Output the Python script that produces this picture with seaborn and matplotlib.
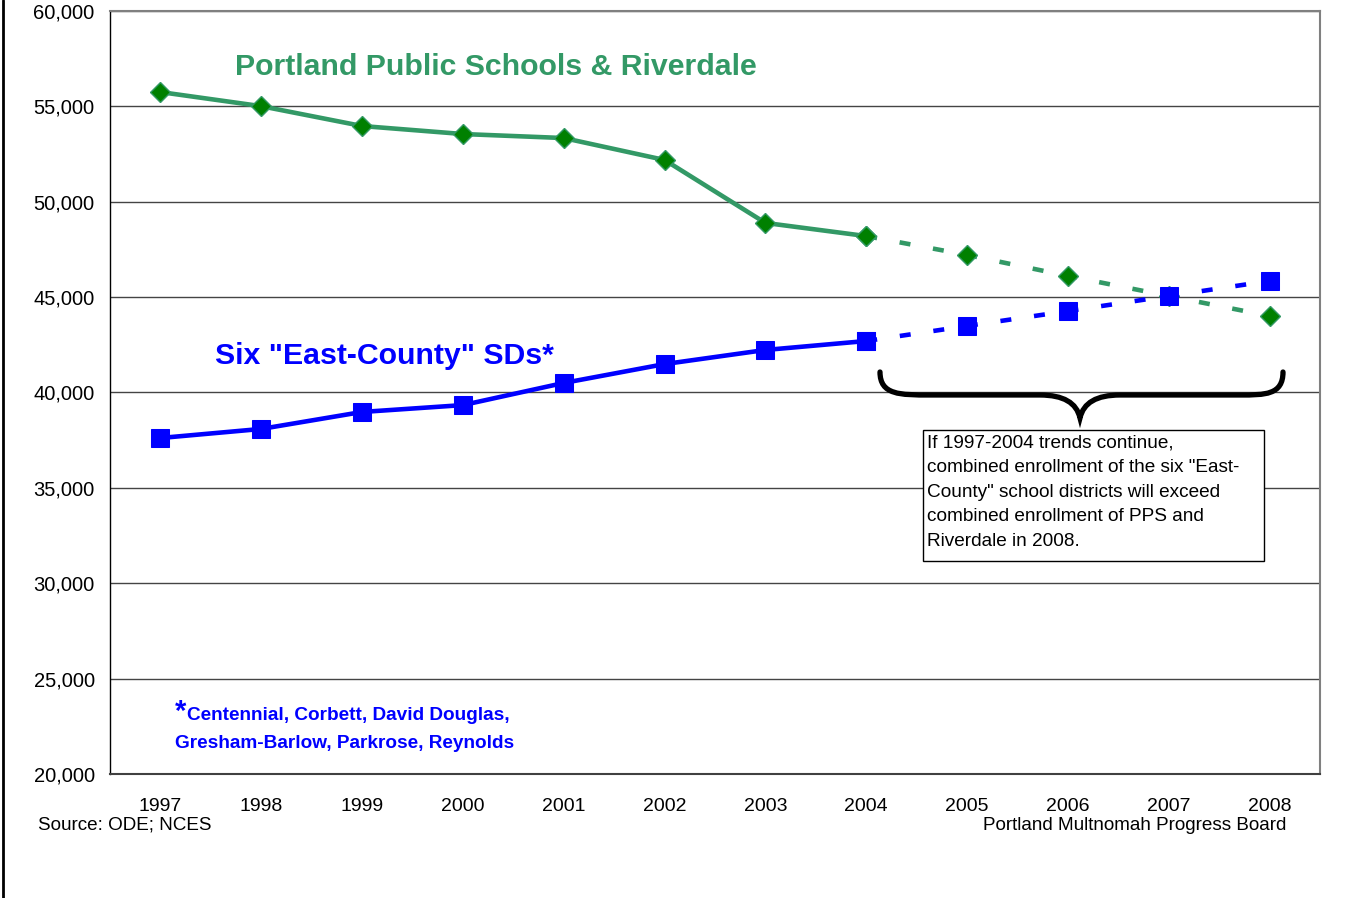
import matplotlib
matplotlib.use('Agg')
import matplotlib.pyplot as plt
import seaborn as sns
import pandas as pd
import numpy as np
from matplotlib.path import Path
from matplotlib.patches import PathPatch, Rectangle
from matplotlib.lines import Line2D
from matplotlib.ticker import FuncFormatter, MultipleLocator, FixedLocator

# ---- data ----
years = ['1997', '1998', '1999', '2000', '2001', '2002', '2003', '2004',
         '2005', '2006', '2007', '2008']
pps = [55750, 55010, 53970, 53550, 53340, 52190, 48890, 48200,
       47210, 46110, 45060, 44010]
east = [37615, 38090, 38980, 39340, 40500, 41490, 42230, 42700,
        43490, 44270, 45060, 45850]
last_actual = '2004'
pps_label = 'Portland Public Schools & Riverdale'
east_label = 'Six "East-County" SDs*'
foot_lines = ['Centennial, Corbett, David Douglas,', 'Gresham-Barlow, Parkrose, Reynolds']
note_lines = ['If 1997-2004 trends continue,',
              'combined enrollment of the six "East-',
              'County" school districts will exceed',
              'combined enrollment of PPS and',
              'Riverdale in 2008.']
source_left = 'Source: ODE; NCES'
source_right = 'Portland Multnomah Progress Board'

sns.set_theme(style='white')
plt.rcParams['font.family'] = ['Liberation Sans', 'DejaVu Sans']

W, H = 1347, 898
fig = plt.figure(figsize=(W / 100, H / 100), dpi=100)
fig.patch.set_facecolor('white')
ax = fig.add_axes([110 / W, 1 - 774 / H, 1210 / W, 763 / H])


def fp(px, py):
    return (px / W, 1 - py / H)


pos = np.arange(len(years))
df = pd.DataFrame({'pos': pos, 'year': years, 'pps': pps, 'east': east})
k = years.index(last_actual)
act = df.iloc[:k + 1]
proj = df.iloc[k:]

GREEN_LINE = '#339966'
GREEN_MK = '#008000'
BLUE = '#0000FF'
dash = (0, (2.4, 5.0))

sns.lineplot(data=act, x='pos', y='pps', ax=ax, color=GREEN_LINE, lw=3.3,
             marker='D', ms=10.5, mfc=GREEN_MK, mec=GREEN_LINE, mew=1, zorder=3)
sns.lineplot(data=proj, x='pos', y='pps', ax=ax, color=GREEN_LINE, lw=3.3,
             linestyle=dash, marker='D', ms=10.5, mfc=GREEN_MK, mec=GREEN_LINE,
             mew=1, zorder=3)
sns.lineplot(data=act, x='pos', y='east', ax=ax, color=BLUE, lw=3.3,
             marker='s', ms=13, mfc=BLUE, mec=BLUE, zorder=4)
sns.lineplot(data=proj, x='pos', y='east', ax=ax, color=BLUE, lw=3.3,
             linestyle=dash, marker='s', ms=13, mfc=BLUE, mec=BLUE, zorder=4)

ax.set_xlim(-0.5, len(years) - 0.5)
ax.set_ylim(20000, 60000)
ax.yaxis.set_major_locator(MultipleLocator(5000))
ax.yaxis.set_major_formatter(FuncFormatter(lambda v, p: f'{int(v):,}'))
ax.xaxis.set_major_locator(FixedLocator(pos))
ax.set_xticklabels(years)
ax.xaxis.set_minor_locator(FixedLocator(np.arange(-0.5, len(years), 1.0)))
ax.tick_params(axis='x', which='major', length=0, pad=17, labelsize=14, labelcolor='black')
ax.tick_params(axis='x', which='minor', length=6, width=1.2, color='#404040', direction='out')
ax.tick_params(axis='y', which='major', length=5, width=1, color='black',
               direction='out', pad=6, labelsize=14.5, labelcolor='black')
ax.set_xlabel('')
ax.set_ylabel('')
ax.grid(axis='y', color='#444444', lw=1)
ax.grid(axis='x', visible=False)
ax.set_axisbelow(True)
for s in ['top', 'right']:
    ax.spines[s].set_color('#808080')
    ax.spines[s].set_linewidth(1.5)
ax.spines['bottom'].set_color('#404040')
ax.spines['bottom'].set_linewidth(1.5)
ax.spines['left'].set_color('black')
ax.spines['left'].set_linewidth(1)

# series labels
fig.text(*fp(496, 67), pps_label, color=GREEN_LINE, fontsize=21.8, fontweight='bold',
         ha='center', va='center')
fig.text(*fp(384, 356), east_label, color=BLUE, fontsize=21.8, fontweight='bold',
         ha='center', va='center')

# footnote
fig.text(*fp(175, 712), '*', color=BLUE, fontsize=21, fontweight='bold', ha='left', va='center')
fig.text(*fp(187, 716), foot_lines[0], color=BLUE, fontsize=13.7, fontweight='bold',
         ha='left', va='center')
fig.text(*fp(175, 744), foot_lines[1], color=BLUE, fontsize=13.7, fontweight='bold',
         ha='left', va='center')

# note box
x0, y0 = fp(923, 561)
x1, y1 = fp(1264, 430)
fig.add_artist(Rectangle((x0, y0), x1 - x0, y1 - y0, transform=fig.transFigure,
                         facecolor='white', edgecolor='black', lw=1, zorder=5))
for i, line in enumerate(note_lines):
    fig.text(*fp(927, 443 + i * 24.5), line, fontsize=13.7, ha='left', va='center',
             color='black', zorder=6)

# brace
bp = [(880, 372), (880, 395), (900, 395), (930, 395),
      (1040, 395), (1075, 395), (1080, 418),
      (1085, 395), (1120, 395),
      (1240, 395), (1265, 395), (1283, 395), (1283, 372)]
bcodes = [Path.MOVETO, Path.CURVE4, Path.CURVE4, Path.CURVE4,
          Path.LINETO, Path.CURVE3, Path.CURVE3,
          Path.CURVE3, Path.CURVE3,
          Path.LINETO, Path.CURVE4, Path.CURVE4, Path.CURVE4]
brace = Path([fp(*p) for p in bp], bcodes)
fig.add_artist(PathPatch(brace, transform=fig.transFigure, facecolor='none',
                         edgecolor='black', lw=3.8, capstyle='round', zorder=5))

# sources
fig.text(*fp(38, 825), source_left, fontsize=13.6, ha='left', va='center', color='black')
fig.text(*fp(1286, 825), source_right, fontsize=13.6, ha='right', va='center', color='black')

# left border of figure
fig.add_artist(Line2D([3 / W, 3 / W], [0, 1], transform=fig.transFigure, color='black', lw=2))

fig.savefig('out.png', dpi=100, facecolor='white')
